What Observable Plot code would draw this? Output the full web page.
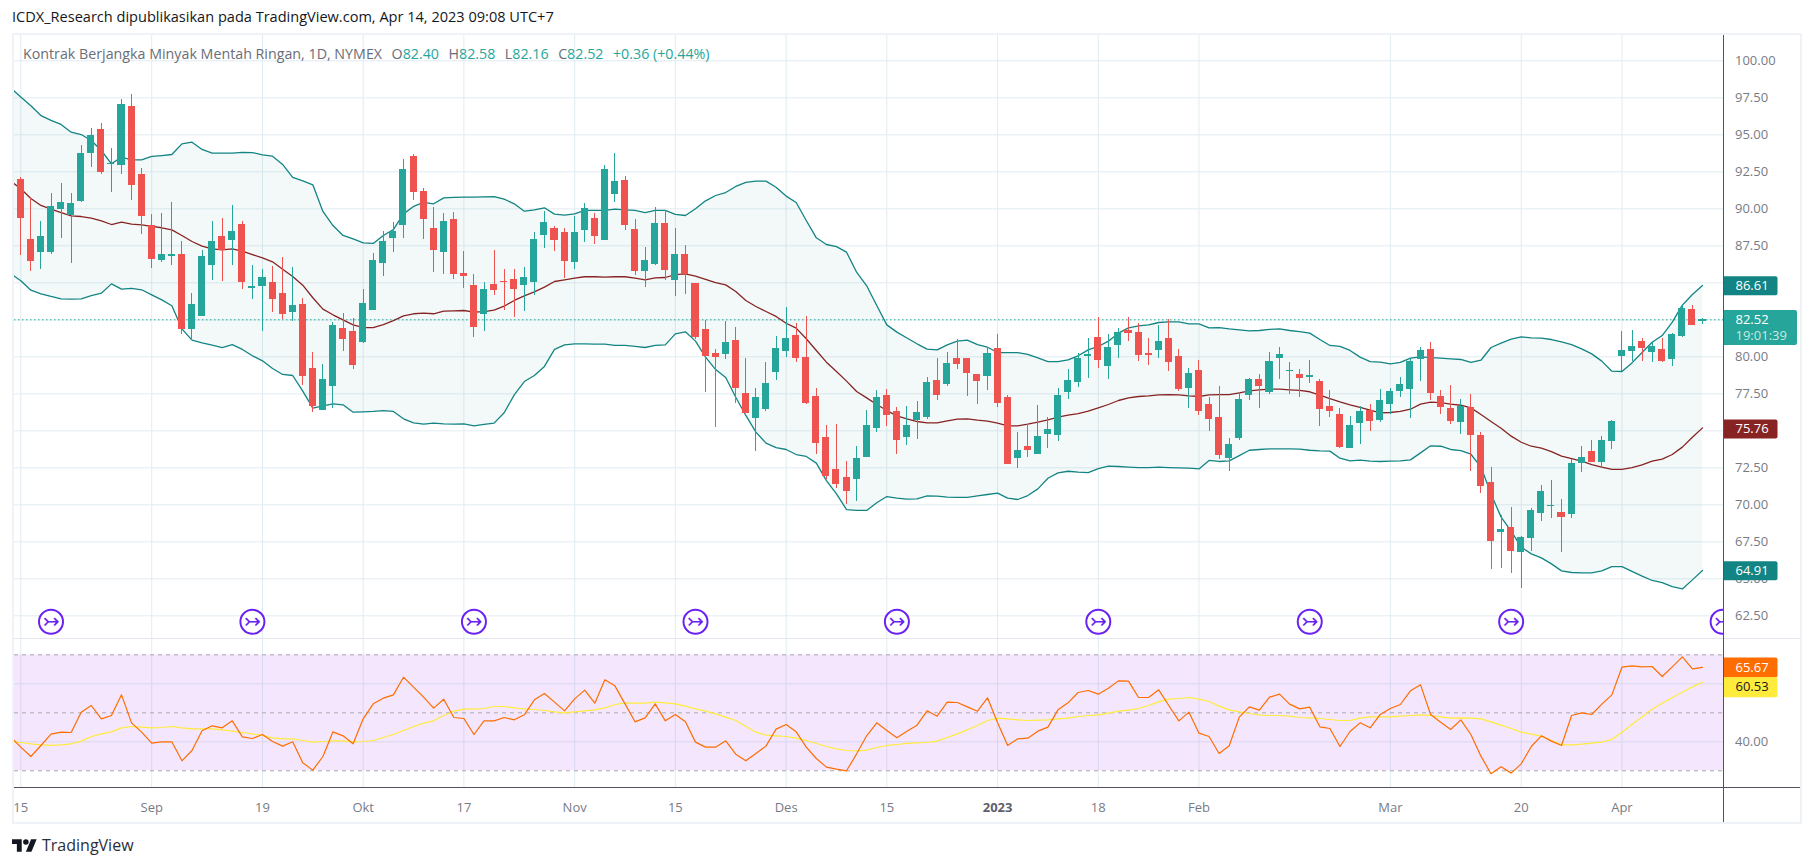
<!DOCTYPE html>
<html><head><meta charset="utf-8">
<script src="https://cdn.jsdelivr.net/npm/d3@7"></script>
<script src="https://cdn.jsdelivr.net/npm/@observablehq/plot@0.6"></script>
<style>
html,body{margin:0;padding:0;background:#fff;overflow:hidden}
#page{position:relative;width:1813px;height:866px;font-family:"Open Sans",sans-serif}
#page>svg,#page>div{position:absolute}
.line{position:absolute}
</style></head><body><div id="page"></div>
<script>
const opens=[91.98,87.93,87.07,87.07,89.95,89.55,90.5,93.74,95.36,92.98,92.95,96.91,92.32,88.87,86.51,86.78,86.91,81.85,82.73,86.17,88.13,87.86,88.94,84.62,84.75,85.02,84.28,83.0,83.54,79.21,76.37,78.0,81.91,81.71,80.97,83.13,86.31,88.0,88.87,93.54,91.17,88.67,87.05,89.28,85.63,84.82,82.86,84.89,85.1,85.23,84.82,85.02,88.2,88.67,88.4,86.37,88.54,89.35,87.86,90.97,91.91,88.6,85.77,86.24,89.01,85.16,86.91,84.95,
81.85,80.23,80.16,81.1,77.52,75.83,76.44,78.94,80.36,81.44,79.95,77.32,74.55,72.39,71.85,71.71,73.2,75.16,77.39,76.31,74.55,75.7,75.9,78.4,78.13,79.89,79.89,78.81,78.67,80.56,77.25,73.13,73.94,73.4,74.75,74.68,77.59,78.27,
80.02,81.31,79.35,80.77,81.78,81.64,80.23,80.43,81.24,80.02,77.86,79.08,76.78,75.9,73.13,74.48,77.39,78.47,77.59,79.89,79.01,78.81,78.6,78.33,76.64,76.1,73.8,75.5,76.37,75.7,76.78,77.66,77.79,79.82,80.5,77.32,76.51,75.56,76.58,74.68,71.51,68.13,68.47,66.78,67.73,69.41,69.89,69.48,69.35,72.79,73.6,72.86,74.28,80.02,80.36,81.04,80.29,80.5,79.82,81.37,83.2,82.4];
const highs=[92.12,90.68,89.14,91.04,91.71,91.04,94.28,95.4,95.77,94.05,97.39,97.73,92.72,89.62,89.68,90.43,87.79,84.28,87.18,89.14,89.35,90.22,89.14,86.17,85.9,86.1,86.71,86.04,83.94,80.29,79.48,82.32,82.93,82.59,84.55,86.98,88.47,89.08,93.33,93.67,91.37,90.09,89.68,89.75,87.12,85.56,85.02,87.18,85.9,85.9,86.04,88.4,89.82,88.8,88.67,89.48,90.36,89.68,92.93,93.74,92.18,89.28,87.39,90.09,89.89,88.67,87.52,84.95,
82.45,80.5,82.39,81.98,79.89,77.86,79.62,81.37,83.33,82.25,82.73,77.86,75.36,75.43,72.93,73.94,76.37,77.73,77.79,76.58,76.64,76.98,78.6,79.89,80.29,81.17,79.89,78.81,80.63,81.51,77.39,74.89,75.43,76.71,75.9,77.86,79.14,80.2,
81.24,82.64,81.51,81.91,82.64,82.25,81.24,82.12,82.5,80.5,79.21,79.75,77.25,78.0,74.48,77.59,78.54,78.81,80.29,80.63,79.62,79.14,79.75,78.47,77.73,76.51,75.97,76.64,76.78,77.79,77.86,78.6,79.89,80.63,80.97,77.73,78.06,77.12,77.45,74.89,72.52,69.28,69.82,67.86,69.75,71.31,71.64,70.36,73.06,73.94,74.35,74.62,75.7,81.71,81.78,81.24,81.04,81.24,81.58,83.54,83.47,82.58];
const lows=[86.85,85.79,85.9,86.91,88,86.31,90.43,92.8,92.32,91.13,92.32,90.56,88.27,85.97,86.37,86.17,81.51,81.1,82.7,85.16,85.09,86.17,84.55,83.87,81.71,83.0,82.52,82.39,78.06,76.24,76.37,76.51,80.36,79.14,80.9,83.13,85.43,87.05,88.0,90.56,87.93,85.7,85.56,85.23,84.62,81.31,81.71,84.14,83.13,82.66,83.06,84.14,87.32,87.12,85.29,85.9,87.73,87.59,87.86,90.43,88.54,85.5,84.68,86.17,85.16,84.08,84.21,81.17,
77.59,75.25,79.82,76.85,76.17,73.6,76.31,78.4,79.95,79.62,76.78,73.4,71.71,71.1,70.02,70.23,73.2,74.89,75.29,73.4,74.01,74.41,75.77,77.05,78.0,79.14,77.32,76.78,77.73,76.58,72.73,72.45,73.2,73.4,73.81,74.28,77.12,77.93,
78.54,79.21,78.47,79.89,81.04,79.68,79.41,79.89,79.01,77.66,76.51,76.04,74.95,73.06,72.25,74.35,77.05,76.51,77.45,78.47,77.45,77.25,78.2,75.29,75.9,73.8,73.8,74.08,74.95,75.56,76.1,77.25,75.83,78.33,77.05,76.1,75.43,74.75,72.25,70.77,65.63,65.7,65.36,64.35,66.85,68.87,69.08,66.78,69.08,72.18,72.86,72.59,73.74,79.01,79.68,79.68,79.62,79.62,79.35,81.31,82.12,82.16];
const closes=[89.37,86.46,88.13,90.16,90.43,90.36,93.74,94.95,92.43,93.08,97.05,91.6,89.48,86.58,86.91,86.91,81.85,83.54,86.78,87.79,87.18,88.47,85.02,84.75,85.36,83.87,82.86,83.47,78.67,76.64,78.47,82.12,81.17,79.41,83.6,86.51,87.79,88.47,92.66,91.1,89.28,87.18,89.14,85.56,85.43,81.98,84.55,84.48,85.02,84.55,85.36,87.93,89.08,87.86,86.44,88.4,90.02,88.13,92.66,91.85,88.87,85.77,86.51,89.01,85.83,86.91,85.56,81.31,
80.02,79.95,80.97,77.86,76.17,77.25,78.2,80.56,81.24,79.89,76.85,74.14,71.91,71.37,70.9,73.13,75.36,77.25,76.04,74.35,75.36,76.24,78.27,77.39,79.55,79.48,78.87,78.33,80.23,76.85,72.73,73.67,73.67,74.62,75.09,77.39,78.4,79.89,
80.16,79.75,80.63,81.64,81.58,80.09,80.09,81.04,79.62,77.79,78.87,76.31,75.77,73.33,74.08,77.12,78.47,78.0,79.68,80.16,79.08,78.54,78.74,76.44,76.31,73.87,75.36,76.31,75.63,77.05,77.66,78.13,79.68,80.43,77.52,76.58,75.63,76.64,74.68,71.24,67.52,68.33,66.85,67.79,69.62,70.9,69.95,69.14,72.79,73.2,72.86,74.35,75.63,80.43,80.7,80.56,80.7,79.68,81.51,83.27,82.12,82.52];
// Bands start one bar earlier than the candles: the first bar is cut by the left edge.
const upper=[98.18,97.55,96.96,96.3,95.97,95.7,95.18,95.02,94.62,93.94,93.04,93.49,93.31,93.31,93.54,93.6,93.67,94.39,94.5,94.01,93.76,93.76,93.76,93.81,93.8,93.65,93.56,93.0,92.12,91.89,91.62,89.82,88.87,88.2,87.97,87.7,87.66,88.2,88.6,89.66,90.16,90.43,90.34,90.74,90.77,90.79,90.79,90.81,90.83,90.65,90.34,89.84,89.93,90.07,89.64,89.57,89.66,89.89,89.89,89.89,89.98,89.93,89.89,89.75,89.89,89.89,89.62,89.55,90.0,90.54,90.9,91.1,91.51,91.78,91.87,91.87,91.46,90.86,90.43,89.21,88.04,87.59,87.45,87.07,85.72,84.8,83.47,82.16,81.67,81.27,80.88,80.52,80.47,80.81,81.06,81.13,80.83,80.65,80.29,80.29,80.29,80.16,79.93,79.68,79.68,79.8,80.07,80.47,80.7,81.06,81.6,81.96,82.09,82.16,82.32,82.36,82.36,82.23,82.23,81.96,81.98,81.89,81.82,81.76,81.78,81.85,81.89,81.78,81.71,81.6,81.17,80.77,80.7,80.43,79.98,79.68,79.64,79.53,79.62,79.91,80.0,79.95,79.91,79.86,79.82,79.62,79.77,80.63,80.92,81.19,81.35,81.28,81.26,81.17,81.01,80.83,80.54,80.2,79.71,79.03,79.01,79.59,80.29,80.99,81.44,82.34,83.49,84.21,84.82];
const basis=[91.87,91.35,90.7,90.23,89.98,89.75,89.53,89.48,89.37,89.19,88.94,89.1,88.96,88.92,88.81,88.72,88.58,88.2,87.79,87.48,87.3,87.23,87.3,87.14,86.91,86.69,86.42,85.92,85.43,84.84,83.99,83.22,82.84,82.5,82.16,81.98,81.98,82.18,82.45,82.77,82.91,82.95,82.91,83.09,83.11,83.13,83.02,83.06,83.15,83.42,83.81,84.12,84.39,84.71,85.09,85.2,85.32,85.41,85.41,85.38,85.41,85.41,85.32,85.2,85.34,85.36,85.56,85.61,85.45,85.23,85.02,84.86,84.41,83.81,83.4,83.06,82.73,82.27,81.94,81.22,80.43,79.64,79.01,78.36,77.66,77.23,76.78,76.37,76.01,75.81,75.63,75.54,75.54,75.68,75.79,75.81,75.72,75.65,75.52,75.34,75.34,75.45,75.59,75.74,75.92,76.06,76.17,76.33,76.55,76.78,77.05,77.23,77.32,77.36,77.43,77.45,77.43,77.36,77.32,77.43,77.45,77.45,77.57,77.7,77.77,77.82,77.82,77.77,77.73,77.64,77.41,77.18,76.96,76.76,76.58,76.4,76.22,76.24,76.31,76.46,76.8,76.94,76.91,76.8,76.73,76.55,76.1,75.63,75.18,74.64,74.23,73.96,73.83,73.6,73.29,73.13,72.95,72.72,72.55,72.39,72.39,72.52,72.7,72.95,73.09,73.4,73.9,74.57,75.2];
const lower=[85.61,85.14,84.5,84.26,84.08,83.92,83.9,83.92,84.14,84.3,84.93,84.57,84.62,84.53,84.19,83.85,83.45,81.89,81.13,80.95,80.79,80.63,80.83,80.5,80.07,79.73,79.21,78.81,78.74,77.68,76.53,76.69,76.82,76.76,76.26,76.28,76.31,76.37,76.31,75.81,75.54,75.45,75.52,75.47,75.45,75.47,75.34,75.43,75.52,76.22,77.43,78.33,78.74,79.35,80.5,80.81,80.88,80.88,80.86,80.86,80.77,80.77,80.7,80.63,80.77,80.81,81.55,81.69,81.06,79.98,79.14,78.6,77.27,76.04,74.91,74.17,73.87,73.74,73.4,73.27,72.82,71.64,70.74,69.68,69.62,69.62,70.14,70.56,70.45,70.38,70.41,70.61,70.59,70.52,70.5,70.5,70.61,70.7,70.79,70.45,70.36,70.63,71.08,71.8,72.16,72.27,72.21,72.18,72.45,72.61,72.59,72.55,72.52,72.52,72.55,72.52,72.5,72.48,72.43,73.0,72.93,72.97,73.33,73.69,73.74,73.78,73.78,73.78,73.76,73.69,73.65,73.63,73.15,72.97,73.02,72.95,72.93,72.95,72.97,73.04,73.51,73.99,73.96,73.74,73.67,73.42,72.55,70.74,69.17,68.22,67.14,66.69,66.42,66.01,65.54,65.43,65.41,65.41,65.54,65.83,65.83,65.5,65.18,64.89,64.75,64.48,64.32,64.93,65.56];
const rsi=[41.6,38.16,34.94,38.74,42.64,43.33,43.22,50.23,52.53,47.93,49.08,56.21,46.55,43.33,39.54,40,40,33.45,37.01,43.79,45.52,44.83,47.24,41.72,41.15,42.53,40.11,38.51,40,32.76,30.23,34.94,43.45,42.07,39.31,47.93,53.1,55.06,56.21,62.3,58.85,55.4,51.61,54.71,48.39,48.05,42.53,47.24,47.24,48.39,47.59,49.31,54.48,56.67,53.68,50.69,54.83,57.82,53.33,61.38,59.31,53.1,46.9,48.28,53.1,47.24,49.43,46.9,39.89,38.16,38.16,40.34,35.75,33.45,35.98,38.51,44.37,45.98,43.45,38.16,34.25,31.26,30.57,30,35.86,42.07,46.55,43.91,41.38,43.68,45.75,50.69,48.85,53.68,53.56,52.07,50.57,55.17,46.55,38.74,41.03,41.26,43.68,45.06,51.03,53.45,57.01,57.7,56.44,58.51,61.03,60.92,55.29,55.29,57.93,52.53,47.24,50.23,42.99,41.84,35.98,38.62,48.51,52.07,50.92,55.4,56.44,52.99,51.38,51.95,45.17,44.6,38.39,43.56,46.55,44.83,49.43,51.49,52.87,57.59,59.66,49.43,46.78,44.25,47.59,42.53,35.06,28.97,31.38,29.2,32.41,38.39,42.07,40.23,38.74,49.08,50,49.43,52.99,56.21,65.75,66.21,65.86,65.98,62.53,65.86,69.31,65.17,65.67];
const rsiMa=[40,39.77,39.31,38.97,38.74,38.97,39.31,40.23,41.84,42.76,43.45,44.83,45.29,45.06,44.83,44.94,45.29,44.83,44.48,44.48,44.48,44.14,43.68,43.22,42.76,42.18,41.38,41.03,41.03,40.46,39.89,40.11,40.34,40.34,40,40.11,40.46,41.49,42.53,43.91,45.29,46.44,47.24,49.08,50.57,51.26,51.26,51.49,52.18,52.18,51.72,51.38,51.15,50.8,50.34,50,50.34,50.69,51.03,51.72,52.87,53.33,53.33,53.33,53.68,53.45,53.1,52.3,51.38,50.57,49.66,48.51,47.36,45.29,43.33,42.3,42.07,41.84,41.26,40.46,39.43,38.39,37.59,37.01,36.9,37.13,38.05,38.74,39.08,39.43,39.66,39.77,40.23,41.49,42.76,44.14,45.63,47.36,48.16,47.93,47.59,47.36,47.47,47.59,47.93,48.16,48.74,49.08,49.31,49.89,50.57,50.92,51.49,52.53,53.79,54.71,54.94,55.29,54.71,53.91,52.3,51.03,50.34,49.77,49.31,49.08,49.08,48.85,48.39,48.28,48.05,47.7,47.36,47.36,48.16,48.62,48.62,48.62,48.85,49.08,49.31,49.08,48.62,48.16,48.28,48.16,47.93,46.9,45.75,44.6,43.33,42.64,41.95,40.46,38.97,38.97,39.2,39.54,39.89,40.8,43.33,45.98,48.62,51.26,53.33,55.29,57.13,58.97,60.53];
const timeTicks=[0,13,24,34,44,55,65,76,86,97,107,117,136,149,159];
const timeLabels=["15","Sep","19","Okt","17","Nov","15","Des","15","2023","18","Feb","Mar","20","Apr"];
const boldTick=97;
const priceTicks=[62.5,65,67.5,70,72.5,75,77.5,80,82.5,85,87.5,90,92.5,95,97.5,100];
const rsiGrid=[40,60];
const rsiLabelTicks=[40];
const rsiBands=[30,50,70];
const lastPrice=82.5;
const rolloverBars=[3,23,45,67,87,107,128,148,169];
const rolloverLevel=62.1;
const bandBadges=[{y:84.8,t:"86.61",c:"#138484"},{y:75.13,t:"75.76",c:"#872323"},{y:65.54,t:"64.91",c:"#138484"}];
const rsiBadges=[{y:65.67,t:"65.67",c:"#ff6d00",f:"#fff"},{y:58.83,t:"60.53",c:"#ffeb3b",f:"#131722"}];

const page=document.getElementById("page");
const GRID="#e1ecf2",AXT="#787b86",UP="#26a69a",DN="#ef5350",BAND="#138484",MID="#872323";
const XD=[(14-20.3)/10.07,(1723.5-20.3)/10.07];
const bars=closes.map((c,i)=>({i,o:opens[i],h:highs[i],l:lows[i],c,col:c>=opens[i]?UP:DN}));
const bandRows=upper.map((u,k)=>({i:k-1,u,m:basis[k],l:lower[k],r:rsi[k],a:rsiMa[k]}));
const fmt=d=>d.toFixed(2);
const badge=(w,h,y0,rx=2)=>({draw(c){c.moveTo(0,y0);c.lineTo(w-rx,y0);c.arcTo(w,y0,w,y0+rx,rx);c.lineTo(w,y0+h-rx);c.arcTo(w,y0+h,w-rx,y0+h,rx);c.lineTo(0,y0+h);c.closePath();}});
const base={width:1813,marginLeft:14,marginRight:89.5,style:{background:"transparent",overflow:"visible",fontFamily:"'Open Sans',sans-serif"}};

const pricePlot=Plot.plot({...base,height:639,marginTop:35,marginBottom:1,
 x:{type:"linear",domain:XD,axis:null},
 y:{type:"linear",domain:[60.97,101.71],axis:null},
 marks:[
  Plot.ruleY(priceTicks,{stroke:GRID}),
  Plot.ruleX(timeTicks,{stroke:GRID}),
  Plot.areaY(bandRows,{x:"i",y1:"l",y2:"u",fill:BAND,fillOpacity:0.05,clip:true}),
  Plot.ruleY([lastPrice],{stroke:UP,strokeDasharray:"1.5,2.5"}),
  Plot.line(bandRows,{x:"i",y:"u",stroke:BAND,strokeWidth:1.3,clip:true}),
  Plot.line(bandRows,{x:"i",y:"l",stroke:BAND,strokeWidth:1.3,clip:true}),
  Plot.line(bandRows,{x:"i",y:"m",stroke:MID,strokeWidth:1.3,clip:true}),
  Plot.ruleX(bars,{x:"i",y1:"l",y2:"h",stroke:"col",strokeWidth:1,shapeRendering:"crispEdges"}),
  Plot.rect(bars,{x1:d=>d.i-0.35,x2:d=>d.i+0.35,y1:"o",y2:"c",fill:"col",shapeRendering:"crispEdges"}),
  Plot.dot(rolloverBars,{x:d=>d,y:()=>rolloverLevel,r:12,fill:"#fff",stroke:"#6a22f2",strokeWidth:2,clip:true}),
  Plot.text(rolloverBars,{x:d=>d,y:()=>rolloverLevel,text:()=>"↣",fill:"#6a22f2",fontSize:20,fontFamily:"DejaVu Sans",clip:true}),
  Plot.axisY(priceTicks,{anchor:"right",label:null,tickSize:0,tickPadding:11,textAnchor:"start",tickFormat:fmt,fontSize:13,fill:AXT}),
  Plot.dot(bandBadges,{y:"y",frameAnchor:"right",symbol:badge(53.5,19,-9.5),fill:"c"}),
  Plot.text(bandBadges,{y:"y",frameAnchor:"right",dx:11.5,textAnchor:"start",text:"t",fill:"#fff",fontSize:13}),
  Plot.dot([82.52],{y:d=>d,frameAnchor:"right",symbol:badge(73,35,-9.5),fill:UP}),
  Plot.text([82.52],{y:d=>d,frameAnchor:"right",dx:11.5,textAnchor:"start",text:fmt,fill:"#fff",fontSize:13}),
  Plot.text(["19:01:39"],{y:()=>82.52,frameAnchor:"right",dx:11.5,dy:16,textAnchor:"start",text:d=>d,fill:"#fff",fillOpacity:0.75,fontSize:13})
 ]});
pricePlot.style.left="0";pricePlot.style.top="0";

const rsiPlot=Plot.plot({...base,height:183,marginTop:0,marginBottom:35,
 x:{type:"linear",domain:XD,axis:null},
 y:{type:"linear",domain:[24.24,75.3],axis:null},
 marks:[
  Plot.ruleY(rsiGrid,{stroke:GRID}),
  Plot.ruleX(timeTicks,{stroke:GRID}),
  Plot.rect([{a:70,b:30}],{y1:"a",y2:"b",fill:"#9c27f0",fillOpacity:0.11}),
  Plot.ruleY(rsiBands,{stroke:"#a9a9ad",strokeDasharray:"4,4"}),
  Plot.line(bandRows,{x:"i",y:"a",stroke:"#ffeb3b",strokeWidth:1.2,clip:true}),
  Plot.line(bandRows,{x:"i",y:"r",stroke:"#ff6d00",strokeWidth:1.2,clip:true}),
  Plot.axisY(rsiLabelTicks,{anchor:"right",label:null,tickSize:0,tickPadding:11,textAnchor:"start",tickFormat:fmt,fontSize:13,fill:AXT}),
  Plot.axisX(timeTicks.filter(t=>t!==boldTick),{anchor:"bottom",label:null,tickSize:0,tickPadding:15,tickFormat:t=>timeLabels[timeTicks.indexOf(t)],fontSize:13,fill:AXT}),
  Plot.axisX([boldTick],{anchor:"bottom",label:null,tickSize:0,tickPadding:15,tickFormat:t=>timeLabels[timeTicks.indexOf(t)],fontSize:13,fontWeight:"bold",fill:"#5d606b"}),
  Plot.dot(rsiBadges,{y:"y",frameAnchor:"right",symbol:badge(53.5,20,-10),fill:"c"}),
  Plot.text(rsiBadges,{y:"y",frameAnchor:"right",dx:11.5,textAnchor:"start",text:"t",fill:"f",fontSize:13})
 ]});
rsiPlot.style.left="0";rsiPlot.style.top="639px";

function div(css,html){const d=document.createElement("div");d.style.cssText=css;if(html)d.innerHTML=html;page.appendChild(d);return d;}
div("left:12px;top:33px;width:1786px;height:787px;border:2px solid #eff2f6;box-sizing:content-box");
page.appendChild(pricePlot);page.appendChild(rsiPlot);
div("left:14px;top:638px;width:1786px;height:1px;background:#e3e6ee");
div("left:14px;top:787px;width:1786px;height:1px;background:#50535e");
div("left:1723px;top:35px;width:1px;height:787px;background:#50535e");
const G=s=>`<span style="color:#26a69a">${s}</span>`;
const gap='<span style="display:inline-block;width:9.5px"></span>';
div("left:12px;top:6px;font-size:14.55px;color:#131722;white-space:nowrap","ICDX_Research dipublikasikan pada TradingView.com, Apr 14, 2023 09:08 UTC+7");
div("left:23px;top:44px;font-size:14.25px;color:#6a6d78;white-space:nowrap",
 `Kontrak Berjangka Minyak Mentah Ringan, 1D, NYMEX${gap}O${G("82.40")}${gap}H${G("82.58")}${gap}L${G("82.16")}${gap}C${G("82.52")}${gap}${G("+0.36 (+0.44%)")}`);
div("left:12px;top:834px;display:flex;align-items:center;gap:5px;font-size:16px;color:#2a2e39;white-space:nowrap",
 `<svg width="25" height="19" viewBox="0 0 36 26"><path fill="#131722" d="M14 22H7V11H0V4h14v18zM28 22h-8l7.5-18h8L28 22z"/><circle fill="#131722" cx="20" cy="8" r="4"/></svg><span>TradingView</span>`);
</script></body></html>
